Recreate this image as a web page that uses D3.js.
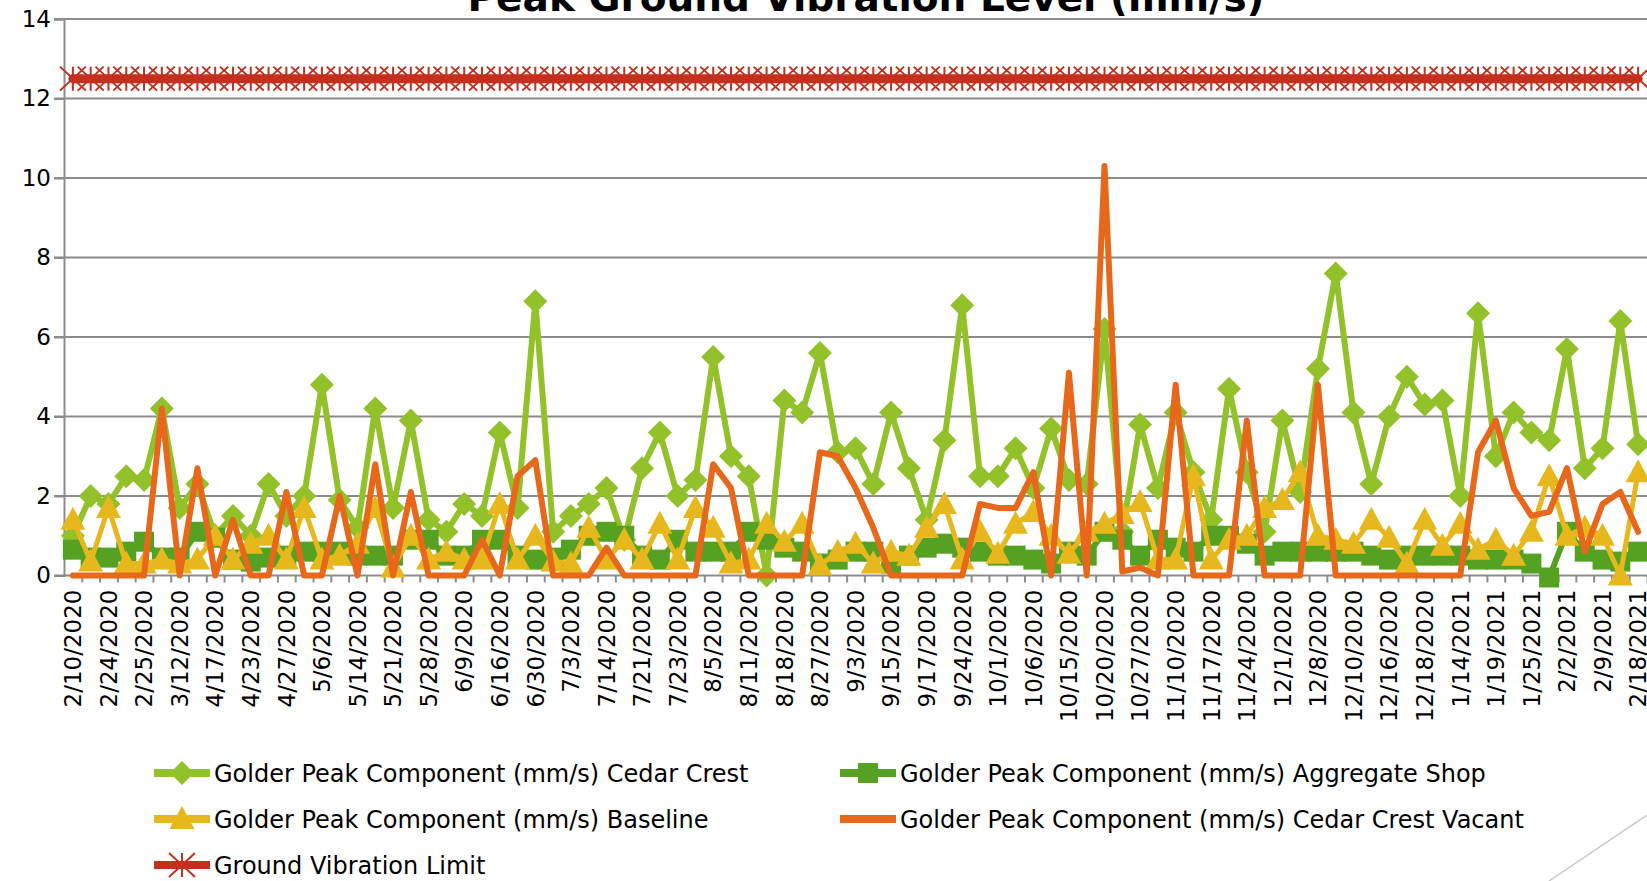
<!DOCTYPE html>
<html>
<head>
<meta charset="utf-8">
<script src="https://cdn.jsdelivr.net/npm/d3@7"></script>
<style>
  body { margin: 0; background: #fff; }
  text { font-family: "DejaVu Sans", sans-serif; fill: #000; }
</style>
</head>
<body>
<div id="chart"></div>
<script>
// Labels shown on the axis (every other sample date)
var tickLabels = ["2/10/2020","2/24/2020","2/25/2020","3/12/2020","4/17/2020","4/23/2020","4/27/2020",
  "5/6/2020","5/14/2020","5/21/2020","5/28/2020","6/9/2020","6/16/2020","6/30/2020","7/3/2020",
  "7/14/2020","7/21/2020","7/23/2020","8/5/2020","8/11/2020","8/18/2020","8/27/2020","9/3/2020",
  "9/15/2020","9/17/2020","9/24/2020","10/1/2020","10/6/2020","10/15/2020","10/20/2020","10/27/2020",
  "11/10/2020","11/17/2020","11/24/2020","12/1/2020","12/8/2020","12/10/2020","12/16/2020","12/18/2020",
  "1/14/2021","1/19/2021","1/25/2021","2/2/2021","2/9/2021","2/18/2021"];

var yTicks = [0, 2, 4, 6, 8, 10, 12, 14];

// mm/s values, one per sample
var cedarCrest = [1.0,2.0,1.8,2.5,2.4,4.2,1.7,2.3,1.0,1.5, 1.0,2.3,1.5,2.0,4.8,1.9,1.2,4.2,1.7,3.9,
  1.4,1.1,1.8,1.5,3.6,1.7,6.9,1.1,1.5,1.8, 2.2,0.9,2.7,3.6,2.0,2.4,5.5,3.0,2.5,0.0,
  4.4,4.1,5.6,3.1,3.2,2.3,4.1,2.7,1.4,3.4, 6.8,2.5,2.5,3.2,2.2,3.7,2.4,2.3,6.2,1.1,
  3.8,2.2,4.1,2.6,1.4,4.7,2.6,1.1,3.9,2.1, 5.2,7.6,4.1,2.3,4.0,5.0,4.3,4.4,2.0,6.6,
  3.0,4.1,3.6,3.4,5.7,2.7,3.2,6.4,3.3];

var aggregateShop = [0.65,0.45,0.45,0.6,0.85,0.45,0.45,1.1,0.95,0.4, 0.35,0.45,0.5,0.6,0.6,0.6,0.5,0.5,0.5,0.9,
  0.9,0.5,0.5,0.9,0.9,0.5,0.4,0.45,0.65,1.0, 1.1,1.0,0.5,0.4,0.9,0.6,0.6,0.6,1.1,0.9,
  0.7,0.6,0.3,0.4,0.6,0.6,0.3,0.5,0.7,0.8, 0.7,0.6,0.5,0.5,0.4,0.3,0.6,0.5,1.1,0.9,
  0.5,0.9,0.7,0.6,1.0,1.0,0.8,0.5,0.6,0.6, 0.6,0.6,0.6,0.5,0.4,0.5,0.5,0.5,0.5,0.4,
  0.4,0.4,0.3,-0.05,1.1,0.6,0.4,0.35,0.6];

var baseline = [1.4,0.35,1.7,0.3,0.3,0.4,0.3,0.4,1.0,0.4, 0.8,1.0,0.4,1.7,0.4,0.5,0.8,1.7,0.2,1.0,
  0.4,0.6,0.4,0.4,1.8,0.4,1.0,0.35,0.3,1.2, 0.4,0.9,0.4,1.3,0.4,1.7,1.2,0.3,0.4,1.3,
  0.85,1.3,0.25,0.6,0.8,0.3,0.6,0.5,1.2,1.8, 0.4,1.1,0.55,1.3,1.6,1.0,0.55,1.1,1.3,1.55,
  1.85,0.4,0.4,2.5,0.4,0.9,1.0,1.7,1.9,2.6, 1.0,0.9,0.8,1.4,0.95,0.3,1.4,0.75,1.3,0.65,
  0.9,0.5,1.1,2.5,1.0,1.2,1.0,0.0,2.6];

var cedarCrestVacant = [0,0,0,0,0,4.2,0,2.7,0,1.4, 0,0,2.1,0,0,2.0,0,2.8,0,2.1,
  0,0,0,0.9,0,2.5,2.9,0,0,0, 0.7,0,0,0,0,0,2.8,2.2,0,0,
  0,0,3.1,3.0,2.2,1.2,0,0,0,0, 0,1.8,1.7,1.7,2.6,0,5.1,0,10.3,0.1,
  0.2,0,4.8,0,0,0,3.9,0,0,0, 4.8,0,0,0,0,0,0,0,0,3.1,
  3.9,2.2,1.5,1.6,2.7,0.6,1.8,2.1,1.1];

var vibrationLimit = [12.5,12.5,12.5,12.5,12.5,12.5,12.5,12.5,12.5,12.5, 12.5,12.5,12.5,12.5,12.5,12.5,12.5,12.5,12.5,12.5,
  12.5,12.5,12.5,12.5,12.5,12.5,12.5,12.5,12.5,12.5, 12.5,12.5,12.5,12.5,12.5,12.5,12.5,12.5,12.5,12.5,
  12.5,12.5,12.5,12.5,12.5,12.5,12.5,12.5,12.5,12.5, 12.5,12.5,12.5,12.5,12.5,12.5,12.5,12.5,12.5,12.5,
  12.5,12.5,12.5,12.5,12.5,12.5,12.5,12.5,12.5,12.5, 12.5,12.5,12.5,12.5,12.5,12.5,12.5,12.5,12.5,12.5,
  12.5,12.5,12.5,12.5,12.5,12.5,12.5,12.5,12.5];

var seriesNames = ["Golder Peak Component (mm/s) Cedar Crest", "Golder Peak Component (mm/s) Aggregate Shop",
  "Golder Peak Component (mm/s) Baseline", "Golder Peak Component (mm/s) Cedar Crest Vacant", "Ground Vibration Limit"];
var seriesColors = ["#93c12a", "#55a121", "#e6b81e", "#e8681b", "#c52f1d"];
var seriesMarkers = ["diamond", "square", "triangle", "none", "asterisk"];

var svgWidth = 1647, svgHeight = 881;
var plot = { left: 64, right: 1647, top: 19, bottom: 575.5 };
var gridColor = "#8c8c8c";

var svg = d3.select("#chart").append("svg")
  .attr("width", svgWidth)
  .attr("height", svgHeight)
  .style("display", "block");

svg.append("rect").attr("width", svgWidth).attr("height", svgHeight).attr("fill", "#fff");

var n = cedarCrest.length;
var x = d3.scaleBand().domain(d3.range(n)).range([plot.left, plot.right]).padding(0);
var xEdge = d3.scaleLinear().domain([0, n]).range([plot.left, plot.right]);
var y = d3.scaleLinear().domain([0, 14]).range([plot.bottom, plot.top]);
function cx(i) { return x(i) + x.bandwidth() / 2; }

// title (mostly cut off at the top of the slide)
svg.append("text")
  .attr("x", 866)
  .attr("y", 11)
  .attr("text-anchor", "middle")
  .style("font-weight", "bold")
  .style("font-size", "39px")
  .text("Peak Ground Vibration Level (mm/s)");

// gridlines
svg.append("g").selectAll("line")
  .data(yTicks)
  .enter().append("line")
    .attr("x1", plot.left - 10)
    .attr("x2", plot.right)
    .attr("y1", function(d) { return y(d); })
    .attr("y2", function(d) { return y(d); })
    .attr("stroke", gridColor)
    .attr("stroke-width", 2);

// y axis
var yAxis = svg.append("g")
  .attr("transform", "translate(" + plot.left + ",0)")
  .call(d3.axisLeft(y).tickValues(yTicks).tickSize(10).tickPadding(3));
yAxis.select(".domain").attr("stroke", gridColor).attr("stroke-width", 2);
yAxis.selectAll(".tick line").attr("stroke", gridColor).attr("stroke-width", 2);
yAxis.selectAll("text").style("font-size", "23px").attr("fill", "#000");

// x axis: tick marks at category edges
var xEdgeAxis = svg.append("g")
  .attr("transform", "translate(0," + plot.bottom + ")")
  .call(d3.axisBottom(xEdge).tickValues(d3.range(1, n + 1)).tickSize(7).tickFormat(""));
xEdgeAxis.select(".domain").remove();
xEdgeAxis.selectAll(".tick line").attr("stroke", gridColor).attr("stroke-width", 2);

// x axis: labels under every other category
var xAxis = svg.append("g")
  .attr("transform", "translate(0," + plot.bottom + ")")
  .call(d3.axisBottom(x)
    .tickValues(d3.range(0, n, 2))
    .tickSize(0)
    .tickFormat(function(i) { return tickLabels[i / 2]; }));
xAxis.select(".domain").remove();
xAxis.selectAll("text")
  .attr("transform", "rotate(-90)")
  .attr("x", -14)
  .attr("y", 0)
  .attr("dy", "0.36em")
  .style("text-anchor", "end")
  .style("font-size", "23px")
  .attr("fill", "#000");

// markers
function markerPath(type) {
  if (type === "diamond") return "M0,-12L12,0L0,12L-12,0Z";
  if (type === "square") return "M-10,-10L10,-10L10,10L-10,10Z";
  if (type === "triangle") return "M0,-13L12.5,10L-12.5,10Z";
  if (type === "asterisk") return "M-13,-12L13,12M-13,12L13,-12M0,-12L0,12";
  return null;
}

var allSeries = [cedarCrest, aggregateShop, baseline, cedarCrestVacant, vibrationLimit];
var lineWidths = [6, 6, 5, 6, 9];

var line = d3.line()
  .x(function(d, i) { return cx(i); })
  .y(function(d) { return y(d); });

allSeries.forEach(function(values, s) {
  var g = svg.append("g");
  g.append("path")
    .datum(values)
    .attr("d", line)
    .attr("fill", "none")
    .attr("stroke", seriesColors[s])
    .attr("stroke-width", lineWidths[s])
    .attr("stroke-linejoin", "round")
    .attr("stroke-linecap", "round");

  var m = seriesMarkers[s];
  if (m === "none") return;
  g.selectAll(".marker")
    .data(values)
    .enter().append("path")
      .attr("class", "marker")
      .attr("transform", function(d, i) { return "translate(" + cx(i) + "," + y(d) + ")"; })
      .attr("d", markerPath(m))
      .attr("fill", m === "asterisk" ? "none" : seriesColors[s])
      .attr("stroke", seriesColors[s])
      .attr("stroke-width", m === "asterisk" ? 2 : 0);
});

// legend
var legendPos = [[154, 773], [840, 773], [154, 819], [840, 819], [154, 865]];
var legend = svg.append("g");
seriesNames.forEach(function(name, s) {
  var p = legendPos[s];
  var item = legend.append("g").attr("transform", "translate(" + p[0] + "," + p[1] + ")");
  item.append("line")
    .attr("x1", 0).attr("x2", 56)
    .attr("stroke", seriesColors[s])
    .attr("stroke-width", 8);
  var m = seriesMarkers[s];
  if (m !== "none") {
    item.append("path")
      .attr("transform", "translate(28,0)")
      .attr("d", markerPath(m))
      .attr("fill", m === "asterisk" ? "none" : seriesColors[s])
      .attr("stroke", seriesColors[s])
      .attr("stroke-width", m === "asterisk" ? 2 : 0);
  }
  item.append("text")
    .attr("x", 60)
    .attr("dy", "0.36em")
    .style("font-size", "24px")
    .text(name);
});

// slide decoration line at the bottom right
svg.append("line")
  .attr("x1", 1549).attr("y1", 881)
  .attr("x2", 1647).attr("y2", 815)
  .attr("stroke", "#c8c8c8")
  .attr("stroke-width", 1.5);
</script>
</body>
</html>
